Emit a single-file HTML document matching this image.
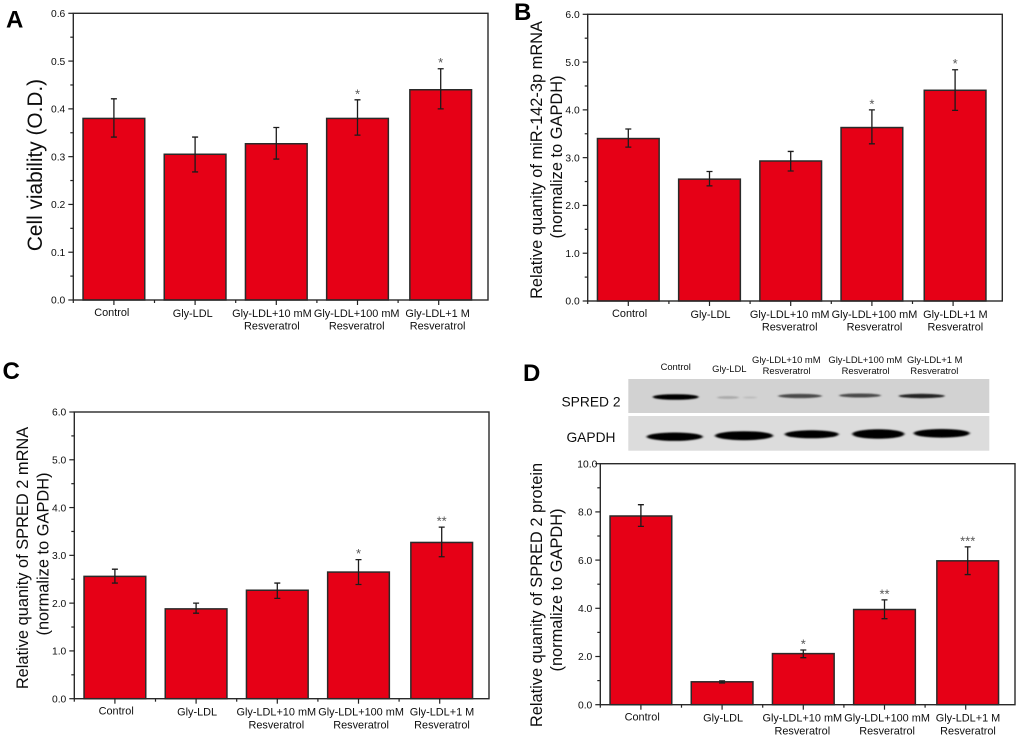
<!DOCTYPE html>
<html lang="en">
<head>
<meta charset="utf-8">
<title>Resveratrol bar charts</title>
<style>
html,body{margin:0;padding:0;background:#fff;width:1020px;height:739px;overflow:hidden}
svg{display:block;font-family:"Liberation Sans",Arial,sans-serif}
</style>
</head>
<body>
<svg id="figure" width="1020" height="739" viewBox="0 0 1020 739" xmlns="http://www.w3.org/2000/svg">
  <defs>
    <filter id="soft" x="-2%" y="-2%" width="104%" height="104%"><feGaussianBlur stdDeviation="0.3"/></filter>
    <filter id="band" x="-20%" y="-100%" width="140%" height="300%"><feGaussianBlur stdDeviation="1.1 0.7"/></filter>
    <filter id="band-gapdh" x="-20%" y="-100%" width="140%" height="300%"><feGaussianBlur stdDeviation="1.2 0.7"/></filter>
  </defs>
  <g id="root" filter="url(#soft)">
    <text x="6" y="27.5" font-size="24" font-weight="bold" fill="#000">A</text>
    <text x="514" y="20" font-size="24" font-weight="bold" fill="#000">B</text>
    <text x="2.5" y="379" font-size="24" font-weight="bold" fill="#000">C</text>
    <text x="523" y="381" font-size="24" font-weight="bold" fill="#000">D</text>

    <g>
      <text x="675.7" y="370" font-size="9.4" text-anchor="middle" fill="#111">Control</text>
      <text x="729.3" y="372" font-size="9.4" text-anchor="middle" fill="#111">Gly-LDL</text>
      <text x="786.3" y="363" font-size="9.4" text-anchor="middle" fill="#111">Gly-LDL+10 mM</text>
      <text x="786.6" y="374" font-size="9.4" text-anchor="middle" fill="#111">Resveratrol</text>
      <text x="865.3" y="363" font-size="9.4" text-anchor="middle" fill="#111">Gly-LDL+100 mM</text>
      <text x="865.6" y="374" font-size="9.4" text-anchor="middle" fill="#111">Resveratrol</text>
      <text x="934.7" y="363" font-size="9.4" text-anchor="middle" fill="#111">Gly-LDL+1 M</text>
      <text x="934.4" y="374" font-size="9.4" text-anchor="middle" fill="#111">Resveratrol</text>
      <text x="591" y="406.5" font-size="13.8" text-anchor="middle" fill="#111">SPRED 2</text>
      <text x="591" y="442" font-size="13.8" text-anchor="middle" fill="#111">GAPDH</text>
      <rect x="628.3" y="379" width="361" height="34" fill="#d2d2d2"/>
      <rect x="628.3" y="416" width="361" height="34.7" fill="#dcdcdc"/>
      <g filter="url(#band)">
        <ellipse cx="675.7" cy="397" rx="23" ry="2.8" fill="#000"/>
        <ellipse cx="728" cy="397.5" rx="11" ry="1.4" fill="#a8a8a8"/>
        <ellipse cx="750" cy="397.5" rx="7" ry="1" fill="#bcbcbc"/>
        <ellipse cx="800" cy="396" rx="22" ry="2.1" fill="#4a4a4a"/>
        <ellipse cx="860" cy="395.5" rx="21" ry="2" fill="#4a4a4a"/>
        <ellipse cx="921.7" cy="396" rx="23" ry="2.2" fill="#222"/>
      </g>
      <g filter="url(#band-gapdh)">
        <ellipse cx="674.7" cy="436.7" rx="28" ry="4.2" fill="#000"/>
        <ellipse cx="744" cy="435.7" rx="29" ry="4.5" fill="#000"/>
        <ellipse cx="811.7" cy="434.3" rx="27" ry="4" fill="#000"/>
        <ellipse cx="878.3" cy="434" rx="26" ry="4.8" fill="#000"/>
        <ellipse cx="941.7" cy="433.3" rx="28" ry="4.3" fill="#000"/>
      </g>
    </g>
  </g>
</svg>
<script>
// ---------- chart data ----------
const categoryLine1 = ['Control', 'Gly-LDL', 'Gly-LDL+10 mM', 'Gly-LDL+100 mM', 'Gly-LDL+1 M'];
const categoryLine2 = ['', '', 'Resveratrol', 'Resveratrol', 'Resveratrol'];

const aTicks = ['0.0', '0.1', '0.2', '0.3', '0.4', '0.5', '0.6'];
const aValues = [0.38, 0.305, 0.327, 0.38, 0.44];
const aErrHigh = [0.421, 0.341, 0.361, 0.419, 0.484];
const aErrLow = [0.341, 0.268, 0.295, 0.345, 0.40];
const aStars = ['', '', '', '*', '*'];

const bTicks = ['0.0', '1.0', '2.0', '3.0', '4.0', '5.0', '6.0'];
const bValues = [3.4, 2.55, 2.93, 3.63, 4.41];
const bErrHigh = [3.6, 2.71, 3.13, 4.0, 4.84];
const bErrLow = [3.22, 2.41, 2.72, 3.29, 3.99];
const bStars = ['', '', '', '*', '*'];

const cTicks = ['0.0', '1.0', '2.0', '3.0', '4.0', '5.0', '6.0'];
const cValues = [2.56, 1.88, 2.27, 2.65, 3.27];
const cErrHigh = [2.71, 2.0, 2.42, 2.91, 3.59];
const cErrLow = [2.42, 1.79, 2.1, 2.39, 2.97];
const cStars = ['', '', '', '*', '**'];

const dTicks = ['0.0', '2.0', '4.0', '6.0', '8.0', '10.0'];
const dValues = [7.83, 0.95, 2.12, 3.95, 5.97];
const dErrHigh = [8.3, 0.99, 2.27, 4.35, 6.55];
const dErrLow = [7.4, 0.9, 1.95, 3.57, 5.4];
const dStars = ['', '', '*', '**', '***'];

// ---------- layout ----------
const BAND = 81.2;
const BAR_W = 61.7;
const LAST_BAR_SHIFT = 2;
const LABEL_NUDGE = [1.3, 1, -1, 2.6, 2.3];
const NS = 'http://www.w3.org/2000/svg';
const root = document.getElementById('root');

function make(parent, tag, attrs, text) {
  const el = document.createElementNS(NS, tag);
  for (const k in attrs) el.setAttribute(k, attrs[k]);
  if (text !== undefined) el.textContent = text;
  parent.appendChild(el);
  return el;
}

function drawPanel(p) {
  const g = make(root, 'g', {});
  
  

  const maxTick = parseFloat(p.ticks[p.ticks.length - 1]);
  const y = v => p.bottom - (v / maxTick) * (p.bottom - p.top);
  const tickX = i => p.left + (i + 0.5) * BAND;
  const barX = i => tickX(i) + (i === p.values.length - 1 ? LAST_BAR_SHIFT : 0);

  // bars
  p.values.forEach((v, i) => {
    const bar = make(g, 'rect', { x: barX(i) - BAR_W / 2, y: y(v), width: BAR_W, height: p.bottom - y(v), fill: '#e60012', stroke: '#2a2a2a', 'stroke-width': 1.5 });
    
    
  });

  // frame
  const frame = make(g, 'rect', { x: p.left, y: p.top, width: p.right - p.left, height: p.bottom - p.top, fill: 'none', stroke: '#2a2a2a', 'stroke-width': 1.4 });
  
  

  // error bars and significance stars
  p.values.forEach((v, i) => {
    const cx = barX(i);
    const d = 'M' + cx + ' ' + y(p.high[i]) + 'V' + y(p.low[i]) +
      'M' + (cx - 3) + ' ' + y(p.high[i]) + 'h6' +
      'M' + (cx - 3) + ' ' + y(p.low[i]) + 'h6';
    const err = make(g, 'path', { d: d, fill: 'none', stroke: '#1c1c1c', 'stroke-width': 1.3 });
    
    
    if (p.stars[i]) {
      const star = make(g, 'text', { x: cx, y: y(p.high[i]) - 1.5, 'font-size': 13, 'text-anchor': 'middle', fill: '#555' }, p.stars[i]);
      
      
    }
  });

  // y ticks
  p.ticks.forEach((t, i) => {
    const val = parseFloat(t);
    const major = make(g, 'line', { x1: p.left - 5, x2: p.left, y1: y(val), y2: y(val), stroke: '#222', 'stroke-width': 1.2 });
    
    
    const label = make(g, 'text', { x: p.left - 8 + (t.length > 3 ? 5 : 0), y: y(val) + 3.7, 'font-size': 10.3, 'text-anchor': 'end', fill: '#111' }, t);
    
    
    if (i < p.ticks.length - 1) {
      const mid = (val + parseFloat(p.ticks[i + 1])) / 2;
      const minor = make(g, 'line', { x1: p.left - 3, x2: p.left, y1: y(mid), y2: y(mid), stroke: '#222', 'stroke-width': 1.2 });
      
      
    }
  });

  // x ticks and category labels
  categoryLine1.forEach((c, i) => {
    const tick = make(g, 'line', { x1: tickX(i), x2: tickX(i), y1: p.bottom, y2: p.bottom + 5, stroke: '#222', 'stroke-width': 1.2 });
    
    
    const minor = make(g, 'line', { x1: p.left + i * BAND, x2: p.left + i * BAND, y1: p.bottom, y2: p.bottom + 3, stroke: '#222', 'stroke-width': 1.2 });
    
    
    const lx = tickX(0) + i * BAND + LABEL_NUDGE[i] + p.labelShift;
    const line1 = make(g, 'text', { x: lx, y: p.bottom + (i === 0 ? 16 : 16.8), 'font-size': 10.9, 'text-anchor': 'middle', fill: '#111' }, c);
    
    
    if (categoryLine2[i]) {
      const line2 = make(g, 'text', { x: lx, y: p.bottom + 29.6, 'font-size': 10.9, 'text-anchor': 'middle', fill: '#111' }, categoryLine2[i]);
      
      
    }
  });

  // y title
  p.titles.forEach(tt => {
    const title = make(g, 'text', { transform: 'translate(' + tt.x + ' ' + tt.y + ') rotate(-90)', 'font-size': tt.size, 'text-anchor': 'middle', fill: '#111' }, tt.text);
    
    
  });
}

drawPanel({ left: 73.3, right: 488, top: 13.3, bottom: 300, ticks: aTicks, values: aValues, high: aErrHigh, low: aErrLow, stars: aStars, labelShift: -3.4,
  titles: [{ text: 'Cell viability (O.D.)', x: 42, y: 165, size: 20.8 }] });
drawPanel({ left: 587.7, right: 1002.3, top: 14.3, bottom: 301, ticks: bTicks, values: bValues, high: bErrHigh, low: bErrLow, stars: bStars, labelShift: 0,
  titles: [{ text: 'Relative quanity of miR-142-3p mRNA', x: 542, y: 160, size: 16.4 }, { text: '(normalize to GAPDH)', x: 562, y: 157, size: 16.4 }] });
drawPanel({ left: 74.3, right: 489, top: 412, bottom: 698.7, ticks: cTicks, values: cValues, high: cErrHigh, low: cErrLow, stars: cStars, labelShift: 0,
  titles: [{ text: 'Relative quanity of SPRED 2 mRNA', x: 28, y: 558, size: 16.4 }, { text: '(normalize to GAPDH)', x: 48.5, y: 554, size: 16.4 }] });
drawPanel({ left: 600.3, right: 1015, top: 463.7, bottom: 704.7, ticks: dTicks, values: dValues, high: dErrHigh, low: dErrLow, stars: dStars, labelShift: 0,
  titles: [{ text: 'Relative quanity of SPRED 2 protein', x: 542, y: 595, size: 16.4 }, { text: '(normalize to GAPDH)', x: 562, y: 590, size: 16.4 }] });
</script>
</body>
</html>
